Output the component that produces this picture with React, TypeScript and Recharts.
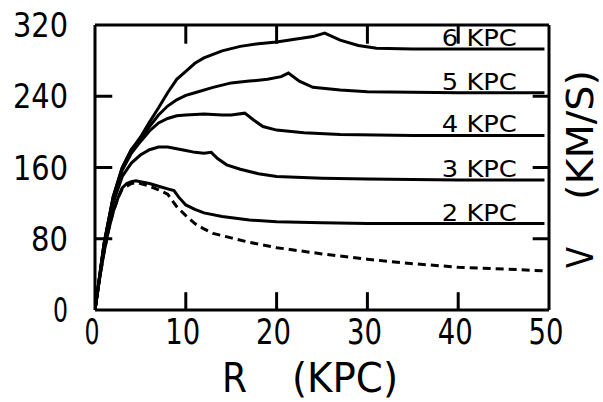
import React from 'react';
import {LineChart, Line, XAxis, YAxis, ReferenceDot, ReferenceLine} from 'recharts';

// rotation curves for different disk scale lengths
const r6 = [0, 1, 2, 3, 4, 5, 6, 7, 8, 9, 10, 11, 12, 14, 16, 18, 20, 22, 24, 25.3, 27, 29, 31, 35, 40, 49.5];
const v6 = [0, 75, 127, 160, 180, 194, 211, 227, 244, 259, 268, 277, 283, 291, 296, 299, 301, 304, 307, 311, 303, 297, 294, 293, 293, 293];

const r5 = [0, 1, 2, 3, 4, 5, 6, 7, 8, 9, 10, 11, 13, 15, 17, 19, 20.5, 21.3, 22.5, 24, 27, 30, 40, 49.5];
const v5 = [0, 75, 127, 160, 180, 192, 206, 219, 229, 236, 241, 244, 250, 255, 257, 259, 262, 266, 257, 250, 247, 245, 244, 244];

const r4 = [0, 1, 2, 3, 4, 5, 6, 7, 8, 9, 10, 12, 14, 15, 16.5, 17.5, 18.5, 20, 23, 27, 35, 49.5];
const v4 = [0, 74, 125, 157, 176, 189, 201, 210, 215, 218, 219, 220, 219, 219, 221, 213, 206, 202, 199, 197, 196, 196];

const r3 = [0, 1, 2, 3, 4, 5, 6, 7, 8, 9, 10, 11, 12, 12.8, 13.5, 14.5, 16, 18, 20, 25, 30, 40, 49.5];
const v3 = [0, 72, 120, 150, 165, 174, 180, 183, 183, 181, 179, 177, 176, 177, 170, 163, 158, 153, 150, 148, 147, 146, 146];

const r2 = [0, 0.5, 1, 1.5, 2, 2.5, 3, 3.5, 4, 4.5, 5, 6, 7, 8, 8.7, 9.2, 10, 11, 12, 14, 17, 20, 25, 30, 40, 49.5];
const v2 = [0, 35, 65, 90, 110, 125, 137, 142, 144, 145, 144, 142, 139, 136, 134, 127, 118, 113, 109, 105, 101, 99, 98, 97, 97, 97];

// dashed curve
const rD = [0, 0.5, 1, 1.5, 2, 2.5, 3, 4, 4.5, 5, 6, 7, 8, 9, 10, 11, 12, 13, 15, 17, 20, 25, 30, 35, 40, 45, 49.5];
const vD = [0, 35, 65, 90, 110, 125, 136, 142, 143, 142, 139, 135, 130, 116, 106, 97, 91, 86, 81, 76, 70, 63, 57, 52, 48, 46, 44];

const curveLabels = ['6 KPC', '5 KPC', '4 KPC', '3 KPC', '2 KPC'];
const rTicks = [0, 10, 20, 30, 40, 50];
const vTicks = [0, 80, 160, 240, 320];
const rMarks = [10, 20, 30, 40];
const vMarks = [80, 160, 240];

const pts = (r: number[], v: number[]) => r.map((x, i) => ({r: x, v: v[i]}));

const FONT = '"DejaVu Sans", sans-serif';
const AXIS = {stroke: '#000', strokeWidth: 3};

const BottomTick = (props: any) => {
    const x = Number(props.x);
    const y = Number(props.y);
    const s = String(props.payload.value);
    return (
        <text x={x - 3} y={y + 34} textAnchor="middle" fontFamily={FONT} fontSize={36} fill="#000"
              textLength={s.length === 1 ? 15 : 35} lengthAdjust="spacingAndGlyphs">{s}</text>
    );
};

const LeftTick = (props: any) => {
    const x = Number(props.x);
    const y = Number(props.y);
    const s = String(props.payload.value);
    const w = s.length === 1 ? 15 : s.length === 2 ? 37 : 55;
    return (
        <text x={x - 27} y={y + 12} textAnchor="end" fontFamily={FONT} fontSize={33} fill="#000"
              textLength={w} lengthAdjust="spacingAndGlyphs">{s}</text>
    );
};

const series = [pts(r6, v6), pts(r5, v5), pts(r4, v4), pts(r3, v3), pts(r2, v2)];

export default function App() {
    return (
        <div style={{position: 'absolute', left: 0, top: 0, background: '#fff'}}>
            <LineChart width={603} height={402} margin={{top: 24, right: 53, bottom: 91, left: 94}}>
                <XAxis xAxisId={0} type="number" dataKey="r" domain={[0, 50]} ticks={rTicks} height={1}
                       tickSize={0} tickMargin={0} tickLine={false} axisLine={AXIS} tick={BottomTick}
                       allowDataOverflow/>
                <XAxis xAxisId="top" orientation="top" type="number" dataKey="r" domain={[0, 50]}
                       ticks={rMarks} height={1} tickLine={false} axisLine={AXIS} tick={false}/>
                <YAxis yAxisId={0} type="number" domain={[0, 320]} ticks={vTicks} width={1} tickSize={0}
                       tickMargin={0} tickLine={false} axisLine={AXIS} tick={LeftTick} allowDataOverflow/>
                <YAxis yAxisId="right" orientation="right" type="number" domain={[0, 320]} ticks={vMarks}
                       width={1} tickLine={false} axisLine={AXIS} tick={false}/>
                {/* inward tick marks */}
                {rMarks.map(r => (
                    <ReferenceLine key={'b' + r} segment={[{x: r, y: 0}, {x: r, y: 20}]} stroke="#000"
                                   strokeWidth={3} ifOverflow="visible"/>
                ))}
                {rMarks.map(r => (
                    <ReferenceLine key={'t' + r} segment={[{x: r, y: 320}, {x: r, y: 299}]} stroke="#000"
                                   strokeWidth={3} ifOverflow="visible"/>
                ))}
                {vMarks.map(v => (
                    <ReferenceLine key={'l' + v} segment={[{x: 0, y: v}, {x: 1.9, y: v}]} stroke="#000"
                                   strokeWidth={3} ifOverflow="visible"/>
                ))}
                {vMarks.map(v => (
                    <ReferenceLine key={'r' + v} segment={[{x: 50, y: v}, {x: 48.2, y: v}]} stroke="#000"
                                   strokeWidth={3} ifOverflow="visible"/>
                ))}
                {series.map((d, i) => (
                    <Line key={i} data={d} dataKey="v" type="linear" stroke="#000" strokeWidth={3} dot={false}
                          isAnimationActive={false}/>
                ))}
                <Line data={pts(rD, vD)} dataKey="v" type="linear" stroke="#000" strokeWidth={3}
                      strokeDasharray="8 5" dot={false} isAnimationActive={false}/>
                {series.map((d, i) => (
                    <ReferenceDot key={'c' + i} x={38.2} y={d[d.length - 1].v} r={0}
                                  shape={(p: any) => (
                                      <text x={p.cx} y={p.cy - 3} fontFamily={FONT} fontSize={23} fill="#000"
                                            textLength={75} lengthAdjust="spacingAndGlyphs">{curveLabels[i]}</text>
                                  )}/>
                ))}
            </LineChart>
            <svg width={603} height={402} style={{position: 'absolute', left: 0, top: 0, pointerEvents: 'none'}}>
                <text x={222} y={392} fontFamily={FONT} fontSize={40} fill="#000" textLength={25}
                      lengthAdjust="spacingAndGlyphs">R</text>
                <text x={292} y={392} fontFamily={FONT} fontSize={40} fill="#000" textLength={106}
                      lengthAdjust="spacingAndGlyphs">(KPC)</text>
                <g transform="translate(593, 268) rotate(-90)">
                    <text x={0} y={0} fontFamily={FONT} fontSize={38} fill="#000" textLength={21}
                          lengthAdjust="spacingAndGlyphs">V</text>
                    <text x={68} y={0} fontFamily={FONT} fontSize={38} fill="#000" textLength={130}
                          lengthAdjust="spacingAndGlyphs">(KM/S)</text>
                </g>
            </svg>
        </div>
    );
}
